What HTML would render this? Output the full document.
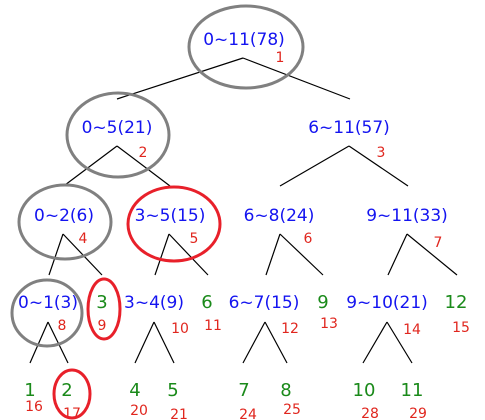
<!DOCTYPE html>
<html><head><meta charset="utf-8"><style>
html,body{margin:0;padding:0;background:#fff;width:485px;height:420px;overflow:hidden}
svg{display:block;font-family:"DejaVu Sans","Liberation Sans",sans-serif}
.b{fill:#1414f0;font-size:17px}
.g{fill:#1a8a1a;font-size:18px}
.r{fill:#e0261e;font-size:14px}
.ln{stroke:#000;stroke-width:1.2;fill:none}
.eg{stroke:#808080;stroke-width:3;fill:none}
.er{stroke:#e8202a;stroke-width:3;fill:none}
</style></head><body>
<svg width="485" height="420" viewBox="0 0 485 420">
<g>
<path class="ln" d="M243,58L117,99M243,58L350,99"/>
<path class="ln" d="M117,146L65,185M117,146L170,186M349,146L280,186M349,146L408,186"/>
<path class="ln" d="M63,234L49,275M63,234L102,275M169,234L155,275M169,234L208,275M280,234L266,275M280,234L323,275M407,234L388,275M407,234L457,275"/>
<path class="ln" d="M48,322L30,363M48,322L68,363M154,322L135,363M154,322L174,363M265,322L243,363M265,322L287,363M387,322L363,363M387,322L412,363"/>
</g>
<g text-anchor="middle">
<text class="b" x="244" y="45">0~11(78)</text>
<text class="b" x="117" y="133">0~5(21)</text>
<text class="b" x="349" y="133">6~11(57)</text>
<text class="b" x="64" y="221">0~2(6)</text>
<text class="b" x="170" y="221">3~5(15)</text>
<text class="b" x="279" y="221">6~8(24)</text>
<text class="b" x="407" y="221">9~11(33)</text>
<text class="b" x="48" y="308">0~1(3)</text>
<text class="b" x="154" y="308">3~4(9)</text>
<text class="b" x="264" y="308">6~7(15)</text>
<text class="b" x="387" y="308">9~10(21)</text>
</g>
<g text-anchor="middle">
<text class="g" x="102" y="308">3</text>
<text class="g" x="207" y="308">6</text>
<text class="g" x="323" y="308">9</text>
<text class="g" x="456" y="308">12</text>
<text class="g" x="30" y="396">1</text>
<text class="g" x="67" y="396">2</text>
<text class="g" x="135" y="396">4</text>
<text class="g" x="173" y="396">5</text>
<text class="g" x="244" y="396">7</text>
<text class="g" x="286" y="396">8</text>
<text class="g" x="364" y="396">10</text>
<text class="g" x="412" y="396">11</text>
</g>
<g text-anchor="middle">
<text class="r" x="280" y="62">1</text>
<text class="r" x="143" y="157">2</text>
<text class="r" x="381" y="157">3</text>
<text class="r" x="83" y="243">4</text>
<text class="r" x="194" y="243">5</text>
<text class="r" x="308" y="243">6</text>
<text class="r" x="438" y="247">7</text>
<text class="r" x="62" y="330">8</text>
<text class="r" x="102" y="330">9</text>
<text class="r" x="180" y="333">10</text>
<text class="r" x="213" y="330">11</text>
<text class="r" x="290" y="333">12</text>
<text class="r" x="329" y="328">13</text>
<text class="r" x="412" y="334">14</text>
<text class="r" x="461" y="332">15</text>
<text class="r" x="34" y="411">16</text>
<text class="r" x="72" y="418">17</text>
<text class="r" x="139" y="415">20</text>
<text class="r" x="179" y="419">21</text>
<text class="r" x="248" y="419">24</text>
<text class="r" x="292" y="414">25</text>
<text class="r" x="370" y="418">28</text>
<text class="r" x="418" y="418">29</text>
</g>
<g>
<ellipse class="eg" cx="246" cy="47" rx="57" ry="41"/>
<ellipse class="eg" cx="118" cy="135" rx="51" ry="42"/>
<ellipse class="eg" cx="65" cy="222" rx="46" ry="37"/>
<ellipse class="er" cx="174" cy="224" rx="46" ry="37"/>
<ellipse class="eg" cx="47" cy="313" rx="35" ry="33"/>
<ellipse class="er" cx="104" cy="309" rx="16" ry="30"/>
<ellipse class="er" cx="72" cy="394" rx="18" ry="24"/>
</g>
</svg>
</body></html>
